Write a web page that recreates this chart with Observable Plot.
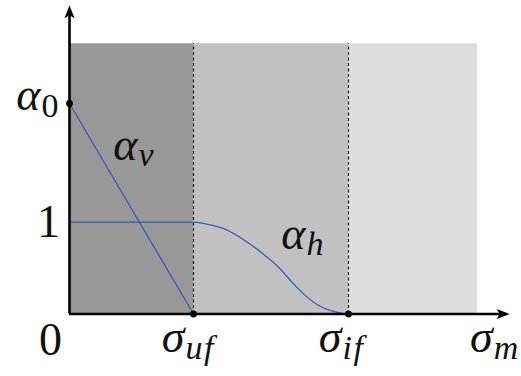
<!DOCTYPE html>
<html>
<head>
<meta charset="utf-8">
<script src="https://cdn.jsdelivr.net/npm/d3@7"></script>
<script src="https://cdn.jsdelivr.net/npm/@observablehq/plot@0.6"></script>
<style>
  html, body { margin: 0; padding: 0; background: #fff; }
  #chart svg { display: block; }
  #chart svg text { font-family: "Liberation Serif", "DejaVu Serif", serif; }
  #chart svg g.sub text { letter-spacing: 1.5px; }
</style>
</head>
<body>
<div id="chart"></div>
<script>
// Key stresses on the horizontal axis (σ) and weights on the vertical axis (α)
const sigmaUF = 1;
const sigmaIF = 2.25;
const alpha0 = 2.29;

// Extent of the shaded bands and of the axes
const regionStart = [0, sigmaUF, sigmaIF];
const regionEnd = [sigmaUF, sigmaIF, 3.29];
const regionFill = ["#979897", "#c1c1c1", "#dddddd"];
const regionTop = 2.94;
const xAxisEnd = 3.55;
const yAxisEnd = 3.36;

// α_v : straight drop from α0 to zero at σ_uf
const vX = [0, sigmaUF];
const vY = [alpha0, 0];

// α_h : flat at 1, smooth fall between σ_uf and σ_if, then zero
const hX = [0, 1.0, 1.097, 1.258, 1.419, 1.581, 1.688, 1.796, 1.903, 2.01, 2.119, 2.25, 2.91];
const hY = [1, 1, 0.98, 0.92, 0.795, 0.632, 0.506, 0.344, 0.2, 0.092, 0.03, 0, 0];

// Marked points
const markX = [0, sigmaUF, sigmaIF];
const markY = [alpha0, 0, 0];

// Tick labels on the x axis: symbol and subscript
const xTickAt = [sigmaUF, sigmaIF, xAxisEnd];
const xTickMain = ["σ", "σ", "σ"];
const xTickSub = ["uf", "if", "m"];

// Tick labels on the y axis
const yTickAt = [alpha0, 1];
const yTickMain = ["α", "1"];
const yTickSub = ["0", ""];

// Curve names
const curveLabelX = [0.548, 1.903];
const curveLabelY = [1.68, 0.708];
const curveMain = ["α", "α"];
const curveSub = ["v", "h"];

const zip = (...cols) => cols[0].map((_, i) => cols.map(c => c[i]));
const regions = regionStart.map((s, i) => ({x1: s, x2: regionEnd[i], fill: regionFill[i]}));
const vLine = zip(vX, vY);
const hLine = zip(hX, hY);
const marks = zip(markX, markY);

// Filled arrowhead, tip at the anchor point, pointing up before rotation
const arrowHead = {
  draw(context, size) {
    const r = Math.sqrt(size / Math.PI);
    context.moveTo(0, 0);
    context.lineTo(r, 2.6 * r);
    context.lineTo(0, 2.0 * r);
    context.lineTo(-r, 2.6 * r);
    context.closePath();
  }
};

const mainSize = 46;
const subSize = 34;

// A symbol with a subscript, split at (x, y) + (dx, 0); baselines shifted by dyMain / dySub
function symbolLabel(main, sub, x, y, dx, dyMain, dySub, mainItalic = true, subItalic = true) {
  const out = [
    Plot.text([main], {x: () => x, y: () => y, dx, dy: dyMain, lineAnchor: "bottom", textAnchor: sub ? "end" : "middle",
      fontSize: mainSize, fontStyle: mainItalic ? "italic" : "normal", fill: "#111"})
  ];
  if (sub) {
    out.push(Plot.text([sub], {x: () => x, y: () => y, dx: dx + 1, dy: dySub, lineAnchor: "bottom", textAnchor: "start",
      fontSize: subSize, fontStyle: subItalic ? "italic" : "normal", fill: "#111", className: "sub"}));
  }
  return out;
}

const chart = Plot.plot({
  width: 521,
  height: 376,
  x: {domain: [0, 3.6], range: [69, 515.4], axis: null},
  y: {domain: [0, 3.4], range: [313.5, 1], axis: null},
  style: {background: "#fff", overflow: "visible"},
  marks: [
    Plot.rect(regions, {x1: "x1", x2: "x2", y1: 0, y2: regionTop, fill: "fill"}),
    Plot.ruleX([sigmaUF, sigmaIF], {y1: 0, y2: regionTop, stroke: "#111", strokeWidth: 1.1, strokeDasharray: "3,2.5"}),
    Plot.line(vLine, {x: "0", y: "1", stroke: "#3a5ab8", strokeWidth: 1.3}),
    Plot.line(hLine, {x: "0", y: "1", stroke: "#3a5ab8", strokeWidth: 1.3, curve: "monotone-x"}),
    // axes
    Plot.ruleY([0], {x1: 0, x2: xAxisEnd - 0.05, stroke: "#000", strokeWidth: 2.6}),
    Plot.ruleX([0], {y1: 0, y2: yAxisEnd - 0.06, stroke: "#000", strokeWidth: 2.6}),
    Plot.dot([[xAxisEnd, 0]], {x: "0", y: "1", symbol: arrowHead, r: 5, rotate: 90, fill: "#000", stroke: null}),
    Plot.dot([[0, yAxisEnd]], {x: "0", y: "1", symbol: arrowHead, r: 5, fill: "#000", stroke: null}),
    Plot.dot(marks, {x: "0", y: "1", r: 3.4, fill: "#000", stroke: null}),
    // origin
    ...symbolLabel("0", "", 0, 0, -19, 41, 0, false),
    // x tick labels
    ...symbolLabel(xTickMain[0], xTickSub[0], xTickAt[0], 0, -9, 38, 45),
    ...symbolLabel(xTickMain[1], xTickSub[1], xTickAt[1], 0, -7, 38, 45),
    ...symbolLabel(xTickMain[2], xTickSub[2], xTickAt[2], 0, -17, 38, 45),
    // y tick labels
    ...symbolLabel(yTickMain[0], yTickSub[0], 0, yTickAt[0], -29, 6, 13, true, false),
    ...symbolLabel(yTickMain[1], yTickSub[1], 0, yTickAt[1], -21, 15, 0, false),
    // curve names
    ...symbolLabel(curveMain[0], curveSub[0], curveLabelX[0], curveLabelY[0], 0, 0, 6),
    ...symbolLabel(curveMain[1], curveSub[1], curveLabelX[1], curveLabelY[1], 0, 0, 6)
  ]
});

document.getElementById("chart").append(chart);
</script>
</body>
</html>
